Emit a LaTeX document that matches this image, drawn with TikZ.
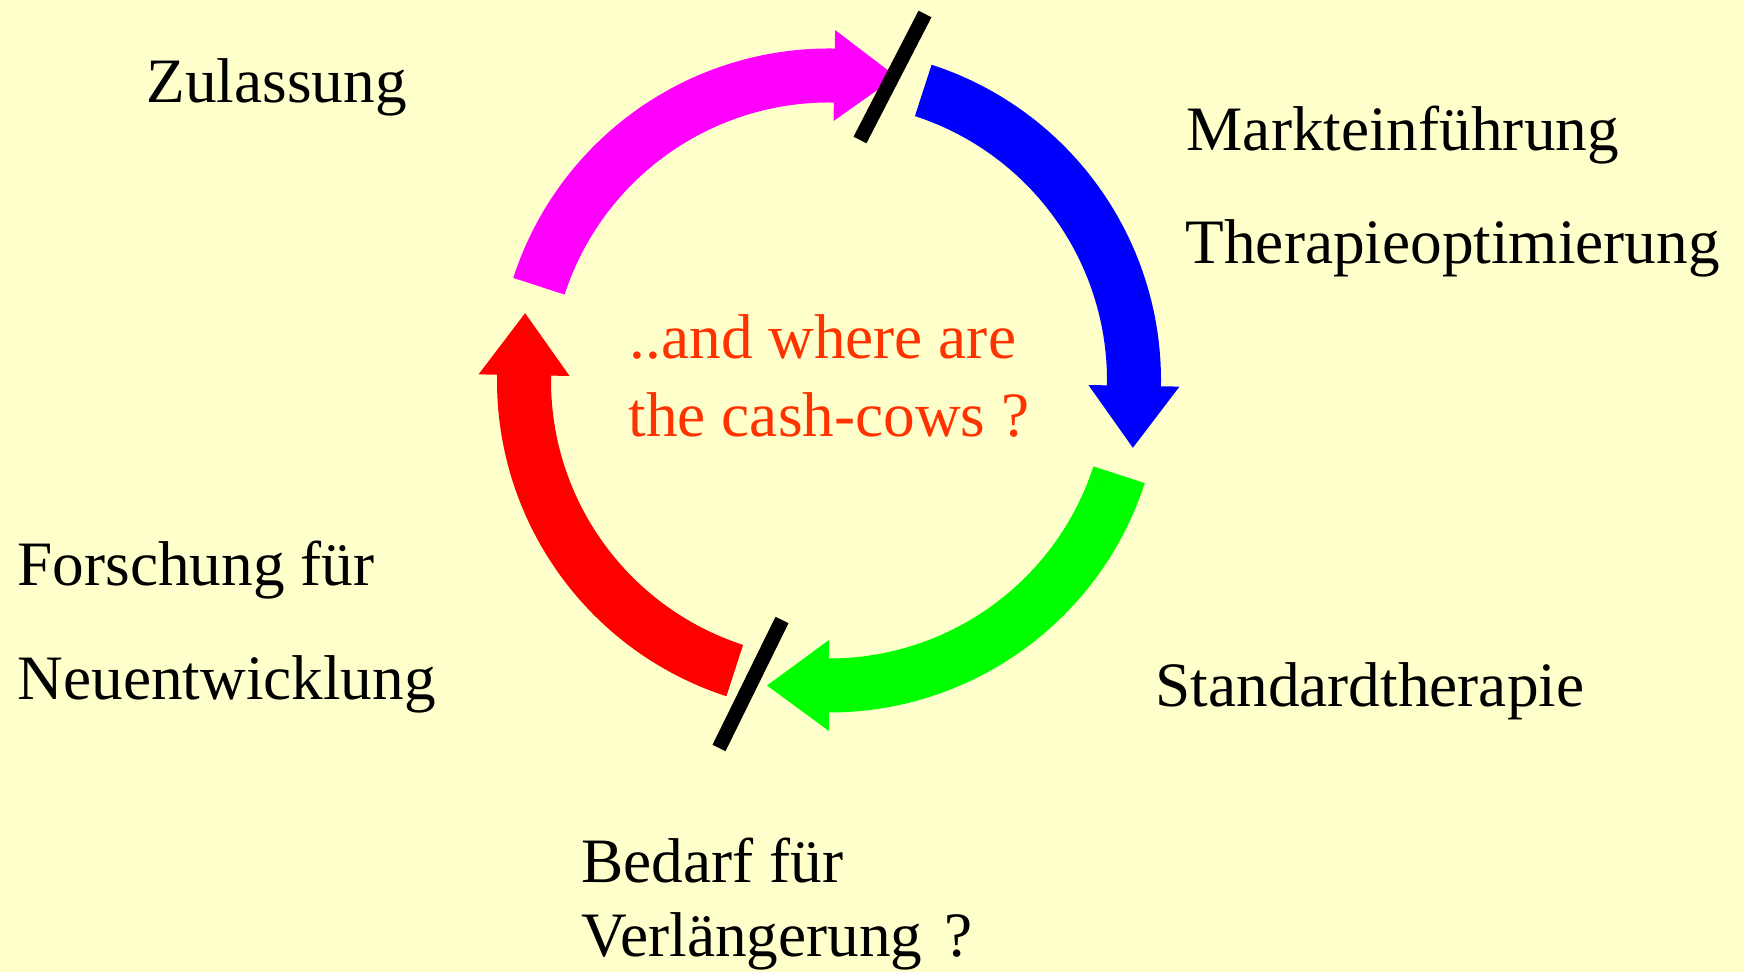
\documentclass[tikz,border=0pt]{standalone}
\usepackage{fontspec}
\setmainfont{Liberation Serif}
\usepackage{tikz}
\usetikzlibrary{calc,positioning,backgrounds}
\definecolor{papier}{RGB}{255,255,204}
\definecolor{cashrot}{RGB}{255,51,0}
\definecolor{lila}{RGB}{255,0,255}
\definecolor{gruen}{RGB}{0,255,0}

\begin{document}
\begin{tikzpicture}[x=0.1mm,y=0.1mm,
		txt/.style={anchor=base west,inner sep=0pt,font=\fontsize{18}{22}\selectfont},
		strich/.style={line width=1.45mm,black}]
		\useasboundingbox (0,0) rectangle (1744,972);
		\fill[papier] (0,0) rectangle (1744,972);
		\coordinate (C) at (829,591.5);
		% die vier pfeile im kreis
		\foreach \farbe/\von/\bis in {lila/162/89,blue/72/-1,gruen/-18/-90,red/-108/-181}
			\fill[\farbe] ($(C)+(\von:332)$) arc[start angle=\von,end angle=\bis,radius=332]
				-- ($(C)+(\bis:350.5)$) -- ($(C)+(\bis:305)+({\bis-90}:62)$) -- ($(C)+(\bis:259.5)$)
				-- ($(C)+(\bis:278)$) arc[start angle=\bis,end angle=\von,radius=278] -- cycle;
		% trennstriche
		\draw[strich] (925,958) -- (860,832);
		\draw[strich] (782,352) -- (719,224);
		% beschriftung
		\node (zul) [txt] at (146,869) {Zulassung};
		\node (markt) [txt] at (1186,821) {Markteinführung};
		\node (thera) [txt] at (1185,708) {Therapieoptimierung};
		\node (forsch) [txt] at (17,386) {Forschung für};
		\node (neu) [txt] at (17,272) {Neuentwicklung};
		\node (std) [txt] at (1155,265) {Standardtherapie};
		\node (bedarf) [txt] at (581,89) {Bedarf für};
		\node (verl) [txt] at (581,15) {Verlängerung\hspace{0.1em} ?};
		\node (cash1) [txt,text=cashrot] at (629,613) {..and where are};
		\node (cash2) [txt,text=cashrot] at (628,535) {the cash-cows ?};
	\end{tikzpicture}
\end{document}
